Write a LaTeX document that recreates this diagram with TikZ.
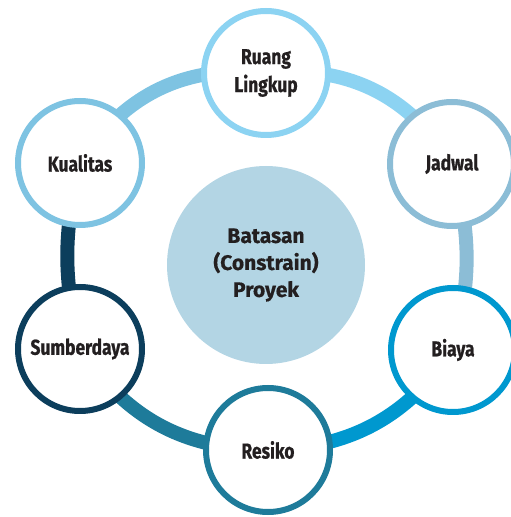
\documentclass[tikz,border=0pt]{standalone}
\usepackage{fontspec}
\setmainfont{Fira Sans}
\newfontfamily\condfam[FakeStretch=0.81,FakeBold=0.8]{Fira Sans}
\newfontfamily\hubfam[FakeBold=0.5]{Fira Sans}
\usetikzlibrary{backgrounds}
\definecolor{cScope}{HTML}{8CD3F2}
\definecolor{cTime}{HTML}{8CBDD6}
\definecolor{cCost}{HTML}{0098CF}
\definecolor{cRisk}{HTML}{1E7B9A}
\definecolor{cRes}{HTML}{0C3E5C}
\definecolor{cQual}{HTML}{7EC3E2}
\definecolor{cHub}{HTML}{B3D5E4}
\definecolor{ink}{HTML}{231F20}
\tikzset{
  item/.style={circle, draw=#1, line width=6pt, fill=white, minimum size=124pt,
    inner sep=0pt, align=center, text=ink, font=\condfam\bfseries\fontsize{21.5}{28}\selectfont},
  hub/.style={circle, fill=cHub, minimum size=198pt, inner sep=0pt, align=center,
    text=ink, font=\hubfam\bfseries\fontsize{21}{27}\selectfont},
  band/.style={line width=14pt, draw=#1}
}
\begin{document}
\begin{tikzpicture}[x=1pt,y=1pt]
\useasboundingbox (0,0) rectangle (511,517);
\node[hub] (hub) at (266,252) {Batasan\\(Constrain)\\Proyek};
\node[item=cScope] (scope) at (266,444) {Ruang\\Lingkup};
\node[item=cTime] (time) at (452,353) {Jadwal};
\node[item=cCost] (cost) at (453,167) {Biaya};
\node[item=cRisk] (risk) at (268,67) {Resiko};
\node[item=cRes] (res) at (80,168) {Sumberdaya};
\node[item=cQual] (qual) at (80,354) {Kualitas};
\begin{scope}[on background layer]
  \draw[band=cScope] (scope.center) to[bend left=32] (time.center);
  \draw[band=cTime] (time.center) to[bend left=15] (cost.center);
  \draw[band=cCost] (cost.center) to[bend left=27] (risk.center);
  \draw[band=cRisk] (risk.center) to[bend left=28] (res.center);
  \draw[band=cRes] (res.center) to[bend left=13.5] (qual.center);
  \draw[band=cQual] (qual.center) to[bend left=32] (scope.center);
\end{scope}
\end{tikzpicture}
\end{document}
